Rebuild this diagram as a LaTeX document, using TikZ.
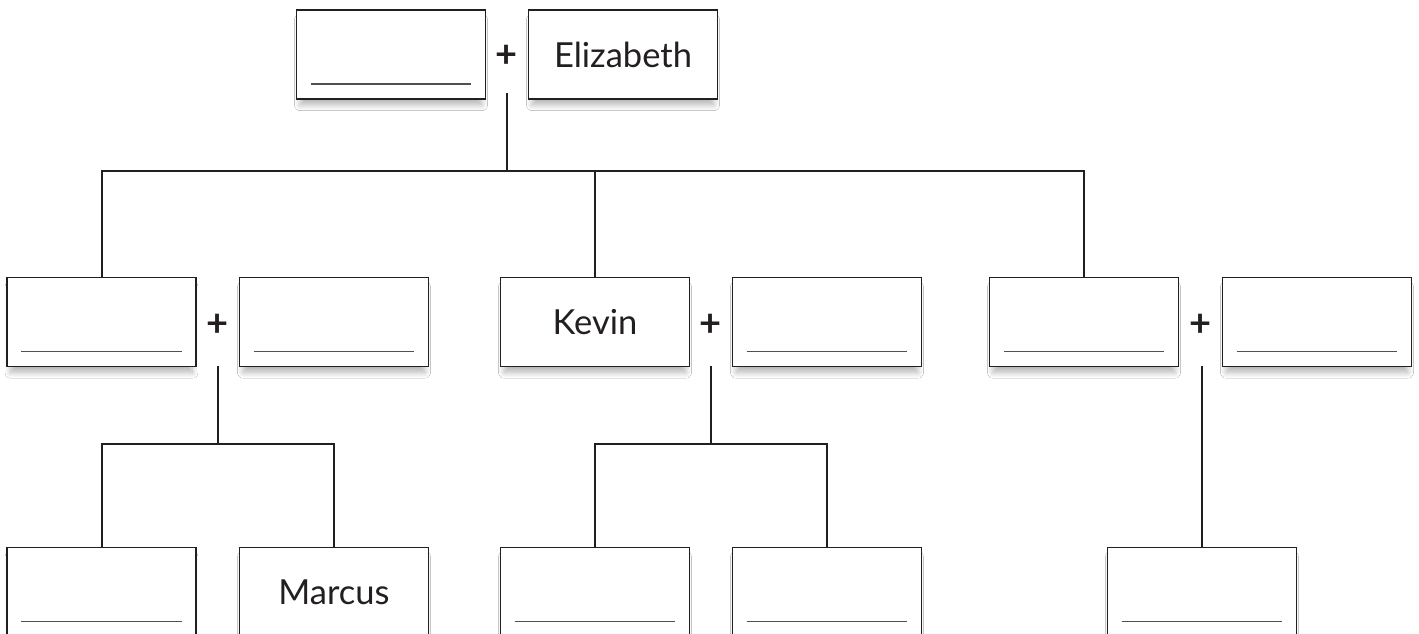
\documentclass[tikz,border=0pt]{standalone}
\usepackage{fontspec}
\setmainfont{Lato}
\usetikzlibrary{shadows.blur}
\definecolor{boxc}{RGB}{35,31,32}
\definecolor{blankc}{RGB}{80,80,80}
\tikzset{
  person/.style={draw=boxc, line width=1.8pt, fill=white, minimum width=189pt,
    minimum height=89pt, inner sep=0pt, text=boxc,
    blur shadow={shadow xshift=0pt, shadow yshift=-8pt, shadow scale=0.96,
      shadow blur radius=6pt, shadow blur steps=12, shadow opacity=30},
    font=\fontsize{34.5}{40}\selectfont},
  plus/.style={font=\bfseries\fontsize{38}{44}\selectfont, inner sep=0pt, text=boxc},
  link/.style={draw=boxc, line width=2pt},
  blank/.style={draw=blankc, line width=1.5pt}
}
\begin{document}
\begin{tikzpicture}[x=1pt,y=-1pt]
\useasboundingbox (0,0) rectangle (1419,634);
\clip (0,0) rectangle (1419,634);
\fill[white] (0,0) rectangle (1419,634);
% top couple
\node[person] (top1) at (391,54.5) {};
\node[person] (eliz) at (623,54.5) {Elizabeth};
\node[plus] (p0) at (507,56) {+};
% row 2
\node[person] (a) at (101.5,322) {};
\node[person] (b) at (334,322) {};
\node[plus] (p1) at (218,325) {+};
\node[person] (kevin) at (595,322) {Kevin};
\node[person] (d) at (827,322) {};
\node[plus] (p2) at (711,325) {+};
\node[person] (e) at (1084,322) {};
\node[person] (f) at (1317,322) {};
\node[plus] (p3) at (1201,325) {+};
% row 3
\node[person] (c1) at (101.5,592) {};
\node[person] (marcus) at (334,592) {Marcus};
\node[person] (k1) at (595,592) {};
\node[person] (k2) at (827,592) {};
\node[person] (f1) at (1202,592) {};
% blank lines
\foreach \n in {top1,a,b,d,e,f,c1,k1,k2,f1}
  \draw[blank] ([shift={(15pt,16pt)}]\n.south west) -- ([shift={(-15pt,16pt)}]\n.south east);
% connectors
\coordinate (j0) at (507,93);
\coordinate (h0) at (507,171);
\draw[link] (j0) -- (h0);
\draw[link] (a.north) -- (a.north |- h0) -- (e.north |- h0) -- (e.north);
\draw[link] (kevin.north) -- (kevin.north |- h0);
\coordinate (j1) at (218,366);
\coordinate (h1) at (218,444);
\draw[link] (j1) -- (h1);
\draw[link] (c1.north) -- (c1.north |- h1) -- (marcus.north |- h1) -- (marcus.north);
\coordinate (j2) at (711,366);
\coordinate (h2) at (711,444);
\draw[link] (j2) -- (h2);
\draw[link] (k1.north) -- (k1.north |- h2) -- (k2.north |- h2) -- (k2.north);
\coordinate (j3) at (1202,366);
\draw[link] (j3) -- (f1.north);
\end{tikzpicture}
\end{document}
